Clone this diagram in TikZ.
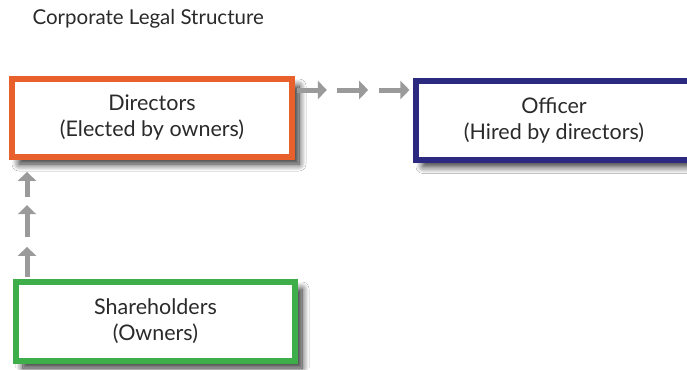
\documentclass[tikz,border=0pt]{standalone}
\usepackage{fontspec}
\setmainfont{Lato}
\usepackage{tikz}
\usetikzlibrary{positioning, calc, arrows.meta, shadows.blur}
\usepackage{xcolor}
\definecolor{dirorange}{HTML}{E8602C}
\definecolor{offblue}{HTML}{2B2A80}
\definecolor{sharegreen}{HTML}{3DAE4A}
\definecolor{arrowgray}{HTML}{9A9A9A}
\definecolor{textgray}{HTML}{2A2A2A}

\begin{document}
\begin{tikzpicture}[x=1pt, y=-1pt,
    box/.style={draw, line width=6pt, fill=white, align=center, text=textgray,
        font=\fontsize{21.5}{26}\selectfont, inner sep=0pt,
        blur shadow={shadow xshift=7pt, shadow yshift=-7pt, shadow blur steps=10, shadow blur radius=7pt, shadow opacity=85}},
    hop/.style={draw=arrowgray, line width=5pt, -{Triangle[length=9pt, width=18pt, angle'=90]}, shorten >=0pt}]
    \useasboundingbox[fill=white] (0,0) rectangle (687,369);

    \node[anchor=base west, text=textgray, font=\fontsize{20.5}{24}\selectfont] (title) at (29,25) {Corporate Legal Structure};

    \node[box, draw=dirorange, minimum width=280pt, minimum height=78pt] (dir) at (152,118) {Directors\\(Elected by owners)};
    \node[box, draw=offblue, minimum width=276pt, minimum height=79pt] (off) at (554,120) {Officer\\(Hired by directors)};
    \node[box, draw=sharegreen, minimum width=279pt, minimum height=79pt] (share) at (155.5,321.5) {Shareholders\\(Owners)};

    % directors -> officer
    \coordinate (h0) at ([yshift=-14pt]dir.north east);
    \coordinate (h1) at ([yshift=-14pt]dir.north east -| off.west);
    \foreach \a/\b in {0.02/0.27, 0.36/0.62, 0.71/0.97}
        \draw[hop] ($(h0)!\a!(h1)$) -- ($(h0)!\b!(h1)$);

    % shareholders -> directors
    \coordinate (v0) at ([xshift=14pt]share.north west);
    \coordinate (v1) at ([xshift=18pt]dir.south west);
    \foreach \a/\b in {0.02/0.27, 0.35/0.62, 0.69/0.90}
        \draw[hop] ($(v0)!\a!(v1)$) -- ($(v0)!\b!(v1)$);
\end{tikzpicture}
\end{document}
